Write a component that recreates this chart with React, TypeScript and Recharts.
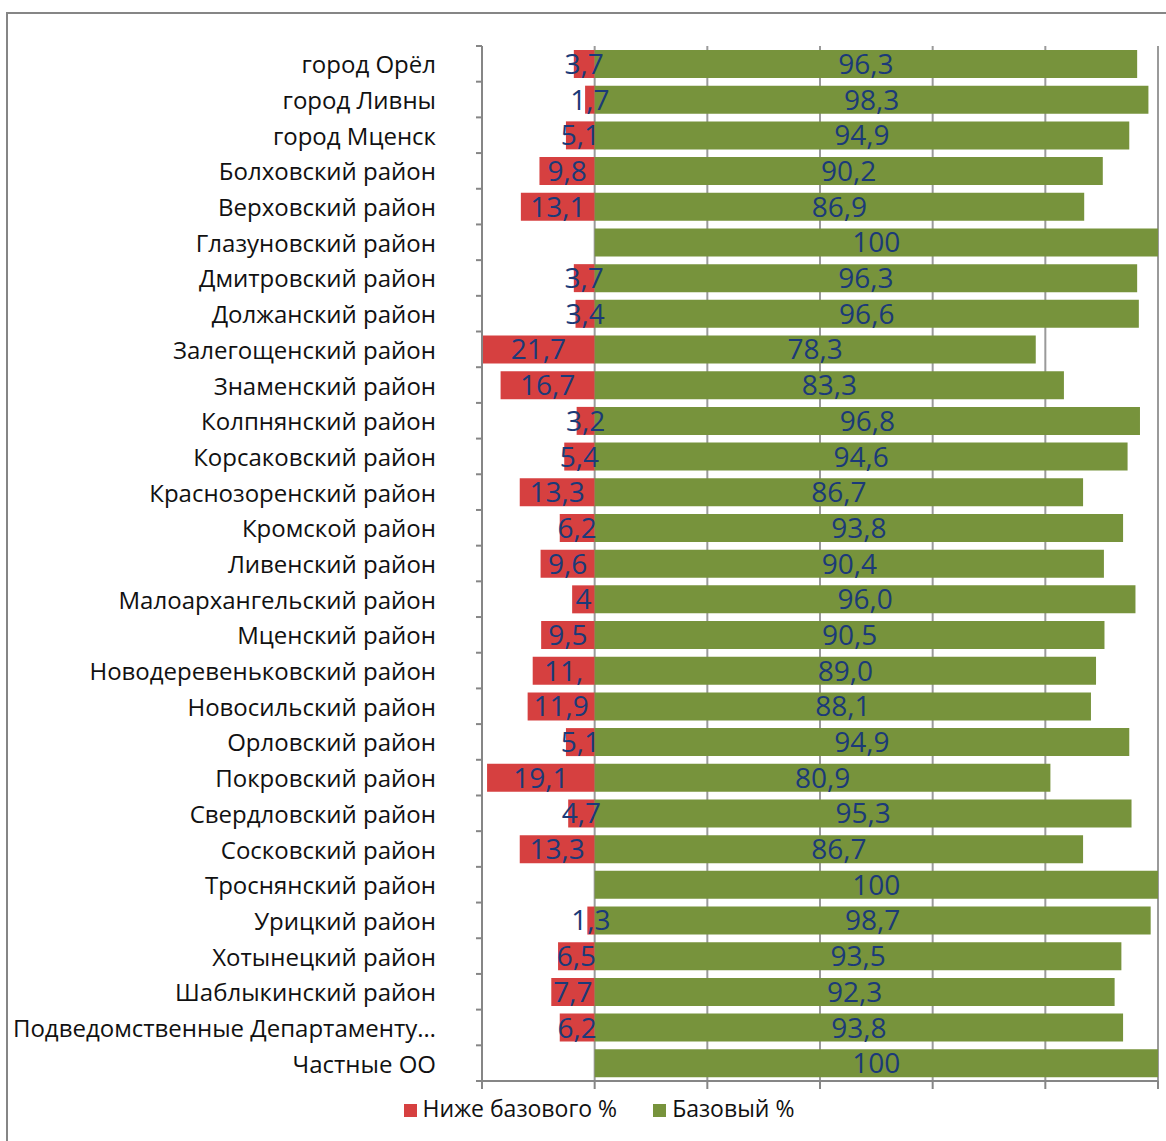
import { BarChart, Bar, XAxis, YAxis, CartesianGrid, Legend, LabelList } from 'recharts';

const categories = [
    'город Орёл', 'город Ливны', 'город Мценск', 'Болховский район', 'Верховский район',
    'Глазуновский район', 'Дмитровский район', 'Должанский район', 'Залегощенский район', 'Знаменский район',
    'Колпнянский район', 'Корсаковский район', 'Краснозоренский район', 'Кромской район', 'Ливенский район',
    'Малоархангельский район', 'Мценский район', 'Новодеревеньковский район', 'Новосильский район', 'Орловский район',
    'Покровский район', 'Свердловский район', 'Сосковский район', 'Троснянский район', 'Урицкий район',
    'Хотынецкий район', 'Шаблыкинский район', 'Подведомственные Департаменту…', 'Частные ОО',
];

// "Ниже базового %" (drawn to the left of zero)
const lowValues = [
    3.7, 1.7, 5.1, 9.8, 13.1, 0, 3.7, 3.4, 21.7, 16.7,
    3.2, 5.4, 13.3, 6.2, 9.6, 4, 9.5, 11.0, 11.9, 5.1,
    19.1, 4.7, 13.3, 0, 1.3, 6.5, 7.7, 6.2, 0,
];
const lowLabels = [
    '3,7', '1,7', '5,1', '9,8', '13,1', '', '3,7', '3,4', '21,7', '16,7',
    '3,2', '5,4', '13,3', '6,2', '9,6', '4', '9,5', '11,', '11,9', '5,1',
    '19,1', '4,7', '13,3', '', '1,3', '6,5', '7,7', '6,2', '',
];

// "Базовый %"
const baseValues = [
    96.3, 98.3, 94.9, 90.2, 86.9, 100, 96.3, 96.6, 78.3, 83.3,
    96.8, 94.6, 86.7, 93.8, 90.4, 96.0, 90.5, 89.0, 88.1, 94.9,
    80.9, 95.3, 86.7, 100, 98.7, 93.5, 92.3, 93.8, 100,
];
const baseLabels = [
    '96,3', '98,3', '94,9', '90,2', '86,9', '100', '96,3', '96,6', '78,3', '83,3',
    '96,8', '94,6', '86,7', '93,8', '90,4', '96,0', '90,5', '89,0', '88,1', '94,9',
    '80,9', '95,3', '86,7', '100', '98,7', '93,5', '92,3', '93,8', '100',
];

const xTicks = [-20, 0, 20, 40, 60, 80, 100];
const seriesOrder = ['Ниже базового %', 'Базовый %'];

const data = categories.map((name, i) => ({
    name,
    low: lowValues[i] ? -lowValues[i] : null,
    base: baseValues[i],
    lowLabel: lowLabels[i],
    baseLabel: baseLabels[i],
}));

const MARGIN = { top: 46, right: 8, left: 0, bottom: 0 };
const HEIGHT = 1141;
const XAXIS_H = 60;
const PLOT_H = HEIGHT - MARGIN.top - MARGIN.bottom - XAXIS_H;
const GRID = '#9a9a9a';
const AXIS = '#868686';
const LABEL = '#1b3a78';
const FONT = '"Open Sans", sans-serif';

function CategoryTick(props: any) {
    const { x, y, payload, index } = props;
    const step = PLOT_H / categories.length;
    return (
        <g>
            <text x={x - 46} y={y} textAnchor="end" dominantBaseline="central" fontSize={24} fill="#111" fontFamily={FONT}>
                {payload.value}
            </text>
            <line x1={x - 6} x2={x} y1={y - step / 2} y2={y - step / 2} stroke={AXIS} strokeWidth={2} />
            {index === categories.length - 1 && (
                <line x1={x - 6} x2={x} y1={y + step / 2} y2={y + step / 2} stroke={AXIS} strokeWidth={2} />
            )}
        </g>
    );
}

export default function App() {
    return (
        <div style={{ position: 'fixed', left: 0, top: 0, width: 1166, height: HEIGHT, overflow: 'hidden', background: '#fff' }}>
            <div style={{ position: 'absolute', left: 6, top: 12, width: 1200, height: 1200, borderTop: `2px solid ${AXIS}`, borderLeft: `2px solid ${AXIS}` }} />
            <div style={{ position: 'absolute', left: 0, top: 0 }}>
                <BarChart
                    width={1166}
                    height={HEIGHT}
                    data={data}
                    layout="vertical"
                    stackOffset="sign"
                    margin={MARGIN}
                    barSize={28}
                >
                    <CartesianGrid horizontal={false} stroke={GRID} strokeWidth={2} />
                    <XAxis
                        type="number"
                        domain={[-20, 100]}
                        ticks={xTicks}
                        allowDataOverflow
                        tickFormatter={() => ''}
                        tickSize={8}
                        height={XAXIS_H}
                        stroke={AXIS}
                        strokeWidth={2}
                    />
                    <YAxis
                        type="category"
                        dataKey="name"
                        width={482}
                        tickSize={0}
                        tickMargin={0}
                        tickLine={false}
                        tick={<CategoryTick />}
                        interval={0}
                        stroke={AXIS}
                        strokeWidth={2}
                    />
                    <Legend
                        verticalAlign="middle"
                        iconType="square"
                        iconSize={13}
                        itemSorter={(item: any) => seriesOrder.indexOf(item.value)}
                        wrapperStyle={{ top: 1092, left: 38, fontFamily: FONT, fontSize: 23 }}
                        formatter={(value) => <span style={{ color: '#111', marginLeft: 2, marginRight: 26 }}>{value}</span>}
                    />
                    <Bar dataKey="low" name="Ниже базового %" stackId="a" fill="#d64040" isAnimationActive={false}>
                        <LabelList dataKey="lowLabel" position="center" fill={LABEL} fontSize={28} fontFamily={FONT} />
                    </Bar>
                    <Bar dataKey="base" name="Базовый %" stackId="a" fill="#77933c" isAnimationActive={false}>
                        <LabelList dataKey="baseLabel" position="center" fill={LABEL} fontSize={28} fontFamily={FONT} />
                    </Bar>
                </BarChart>
            </div>
        </div>
    );
}
